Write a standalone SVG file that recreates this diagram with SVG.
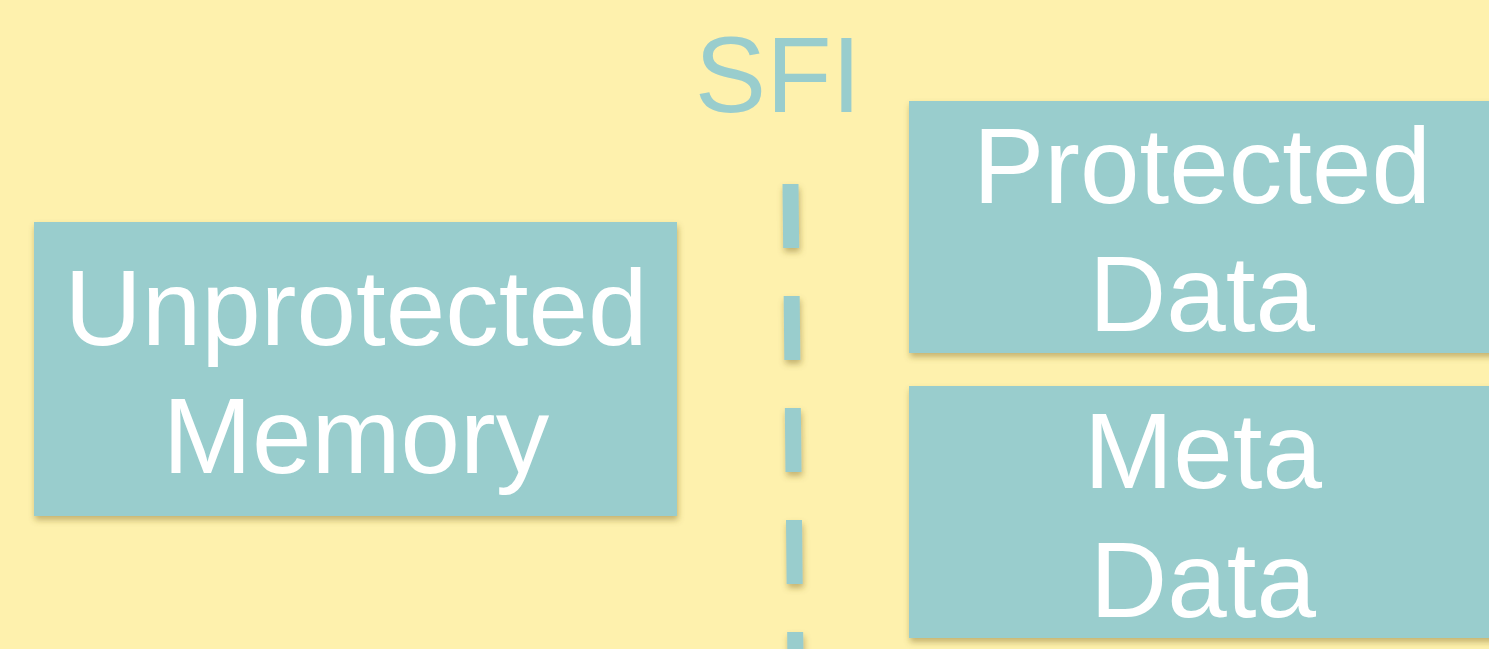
<svg xmlns="http://www.w3.org/2000/svg" width="1489" height="649" viewBox="0 0 1489 649">
  <defs>
    <filter id="shadow" x="-10%" y="-10%" width="120%" height="130%">
      <feDropShadow dx="1" dy="4" stdDeviation="3" flood-color="#7a6628" flood-opacity="0.45"/>
    </filter>
    <!-- user-space region so the thin vertical divider is not clipped -->
    <filter id="dashShadow" filterUnits="userSpaceOnUse" x="740" y="150" width="110" height="650">
      <feDropShadow dx="1" dy="4" stdDeviation="3" flood-color="#7a6628" flood-opacity="0.45"/>
    </filter>
    <style>
      .box { fill: #99cdcd; filter: url(#shadow); }
      .label { font-family: "Liberation Sans", Arial, sans-serif; font-size: 107px; fill: #ffffff; text-anchor: middle; }
      .title { font-family: "Liberation Sans", Arial, sans-serif; font-size: 107px; fill: #99cdcd; text-anchor: middle; }
      .divider { stroke: #99cdcd; stroke-width: 16; stroke-dasharray: 64 48; fill: none; filter: url(#dashShadow); }
    </style>
  </defs>

  <!-- background -->
  <rect x="0" y="0" width="1489" height="649" fill="#fef1ad"/>

  <!-- isolation boundary title -->
  <text class="title" x="778" y="112">SFI</text>

  <!-- dashed isolation boundary -->
  <g id="connectors">
    <line class="divider" x1="790.5" y1="184" x2="796.5" y2="760"/>
  </g>

  <g id="unprotected-memory">
    <rect class="box" x="34" y="222" width="643" height="294"/>
    <text class="label" x="356" y="345">Unprotected</text>
    <text class="label" x="356" y="473">Memory</text>
  </g>

  <g id="protected-data">
    <rect class="box" x="909" y="101" width="600" height="252"/>
    <text class="label" x="1202" y="203">Protected</text>
    <text class="label" x="1202" y="331">Data</text>
  </g>

  <g id="meta-data">
    <rect class="box" x="909" y="386" width="600" height="252"/>
    <text class="label" x="1203" y="488">Meta</text>
    <text class="label" x="1203" y="617">Data</text>
  </g>
</svg>
